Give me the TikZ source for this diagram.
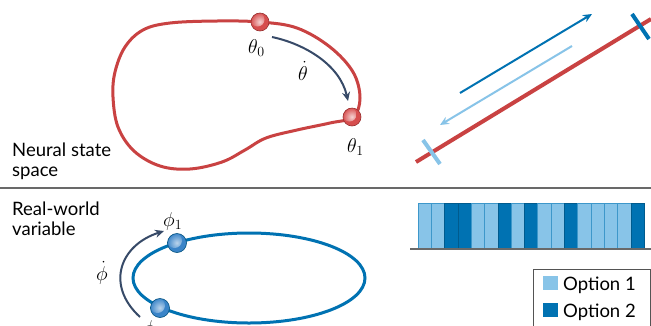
\documentclass[tikz,border=0pt]{standalone}
\usepackage{fix-cm}
\usepackage{fontspec}
\setmainfont{Lato}
\usetikzlibrary{arrows.meta,shapes.geometric}
\definecolor{curvered}{RGB}{201,66,66}
\definecolor{ballred}{RGB}{214,78,78}
\definecolor{navyarrow}{RGB}{55,74,104}
\definecolor{blueD}{RGB}{0,114,178}
\definecolor{blueL}{RGB}{136,196,232}
\definecolor{ballblue}{RGB}{58,132,200}
\definecolor{rulegray}{RGB}{105,105,105}
\tikzset{
  lbl/.style={font=\fontsize{18.5}{20}\selectfont, inner sep=0pt, align=left, anchor=north west},
  mlbl/.style={font=\fontsize{20}{22}\selectfont, inner sep=0pt, anchor=base west},
  anyball/.style={circle, minimum size=#1, inner sep=0pt, line width=0.6pt},
  redball/.style={anyball=18pt, fill=ballred, draw=curvered!75!black,
     path picture={\shade[inner color=white!75!ballred, outer color=ballred] (path picture bounding box.center) ++(-2.5,-2.5) circle (7pt);}},
  blueball/.style={anyball=19pt, fill=ballblue, draw=blueD!70!black,
     path picture={\shade[inner color=white!65!ballblue, outer color=ballblue] (path picture bounding box.center) ++(-2.5,-2.5) circle (7.5pt);}},
  navyarr/.style={navyarrow, line width=2pt, -{Stealth[length=9pt,width=8pt,inset=3pt]}},
  barL/.style={fill=blueL, draw=blueD!55!blueL, line width=0.6pt},
  barD/.style={fill=blueD, draw=blueD!80!black, line width=0.6pt},
  legtxt/.style={font=\fontsize{18.5}{20}\selectfont, inner sep=0pt, anchor=base west}
}
\begin{document}
\begin{tikzpicture}[x=1pt,y=-1pt]
\useasboundingbox (0,0) rectangle (651,325);
\clip (0,0) rectangle (651,325);
\fill[white] (0,0) rectangle (651,325);

% ---------- top left: neural state space ----------
\draw[curvered, line width=3pt, line join=round] plot[smooth cycle, tension=0.6] coordinates {
 (260,22) (297,28) (330,47) (353,72) (360,98) (353,117) (330,123) (297,130)
 (266,138) (245,150) (222,162) (190,169) (160,166) (134,151) (118,127)
 (113,97) (115,72) (125,47) (143,30) (170,23) (217,21)};
\node[redball] (th0) at (260,22) {};
\node[redball] (th1) at (352,117) {};
\node[mlbl] (lth0) at (248,53) {$\theta_0$};
\node[mlbl] (lthd) at (298,80) {$\dot\theta$};
\node[mlbl] (lth1) at (347,152) {$\theta_1$};
\coordinate (a0) at (272,37);
\coordinate (a1) at (348,101);
\draw[navyarr] (a0) .. controls (305,44) and (340,65) .. (a1);

\node[lbl] (nss) at (12,143) {Neural state\\space};

% divider
\coordinate (dl) at (0,188);
\coordinate (dr) at (651,188);
\draw[rulegray, line width=1.5pt] (dl) -- (dr);

% ---------- top right: line ----------
\coordinate (r0) at (416,162);
\coordinate (r1) at (651,19);
\draw[curvered, line width=4pt] (r0) -- (r1);
\coordinate (tl0) at (423,140);
\coordinate (tl1) at (440,164);
\draw[blueL, line width=4pt] (tl0) -- (tl1);
\coordinate (td0) at (632,14);
\coordinate (td1) at (649,39);
\draw[blueD, line width=4pt] (td0) -- (td1);
\coordinate (db0) at (460,93);
\coordinate (db1) at (592,14);
\draw[blueD, line width=2pt, -{Stealth[length=9pt,width=8pt,inset=3pt]}] (db0) -- (db1);
\coordinate (lb0) at (572,46);
\coordinate (lb1) at (440,125);
\draw[blueL, line width=2pt, -{Stealth[length=9pt,width=8pt,inset=3pt]}] (lb0) -- (lb1);

% ---------- bottom left: real-world variable ----------
\node[lbl] (rwv) at (12,201.5) {Real-world\\variable};
\node[draw=blueD, line width=3pt, ellipse, minimum width=232pt, minimum height=90pt, inner sep=0pt] (ell) at (249,278) {};
\node[blueball] (ph1) at (177,243) {};
\node[blueball] (ph0) at (160,308) {};
\node[mlbl] (lph1) at (163,226) {$\phi_1$};
\node[mlbl] (lphd) at (96,280) {$\dot\phi$};
\node[mlbl] (lph0) at (143,334) {$\phi_0$};
\coordinate (b0) at (140,317);
\coordinate (b1) at (164,231);
\draw[navyarr] (b0) .. controls (105,285) and (120,245) .. (b1);

% ---------- bottom right: bars ----------
\foreach \c [count=\i from 0] in {L,L,D,D,L,L,D,L,D,L,L,D,L,L,L,L,D} {
  \path[bar\c] (418+13.3*\i,203) rectangle (418+13.3*\i+13.3,249);
}
\coordinate (bl0) at (410,249);
\coordinate (bl1) at (651,249);
\draw[rulegray, line width=1.5pt] (bl0) -- (bl1);

% legend
\node[draw=rulegray!80!black, line width=1pt, minimum width=117pt, minimum height=70pt, anchor=north west, inner sep=0pt] (leg) at (533,269) {};
\node[fill=blueL, minimum width=15pt, minimum height=14pt, inner sep=0pt, anchor=north west] (k1) at (543,276) {};
\node[fill=blueD, minimum width=15pt, minimum height=14pt, inner sep=0pt, anchor=north west] (k2) at (543,303) {};
\node[legtxt] (o1) at (563,290) {Option 1};
\node[legtxt] (o2) at (563,317) {Option 2};
\end{tikzpicture}
\end{document}
